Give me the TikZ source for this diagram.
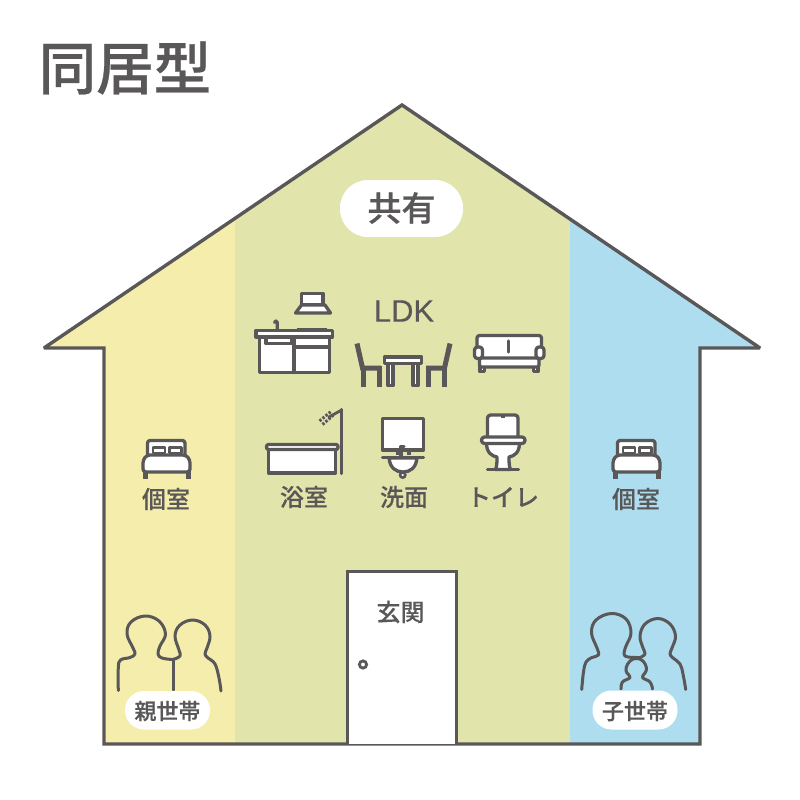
\documentclass[tikz,border=0pt]{standalone}
\usepackage{fontspec}
\setmainfont{Liberation Sans}
\newfontfamily\cjk[FakeBold=0.12]{Noto Sans CJK JP Medium}
\newfontfamily\cjkb[FakeBold=0.45]{Noto Sans CJK JP Medium}
\newfontfamily\latn[FakeBold=0.25]{Liberation Sans}
\definecolor{ink}{HTML}{595757}
\definecolor{yel}{HTML}{F5EDAC}
\definecolor{grn}{HTML}{E2E5AB}
\definecolor{blu}{HTML}{AEDDF0}
\tikzset{
 ln/.style={draw=ink,line width=3.4pt,line join=round},
 ic/.style={draw=ink,line width=3.3pt,fill=white,line join=round,line cap=round},
 th/.style={draw=ink,line width=3.3pt,line cap=round,line join=round},
 pp/.style={draw=ink,line width=3pt,line cap=round,line join=round},
 lbl/.style={text=ink,inner sep=0pt,font=\cjk\fontsize{24}{24}\selectfont},
 blbl/.style={text=ink,inner sep=0pt,font=\cjkb\fontsize{22}{22}\selectfont},
 pill/.style={fill=white,rounded corners=#1,draw=none}
}
\newcommand{\bedicon}[1]{%
 \begin{scope}[xshift=#1pt]
  \fill[ink] (142.5,470) rectangle (147.5,479);
  \fill[ink] (185.5,470) rectangle (190.5,479);
  \draw[ic,rounded corners=2.5pt] (147.5,456) -- (147.5,440.5) -- (185,440.5) -- (185,456);
  \draw[ic,line width=2.8pt] (153,447.5) rectangle (165,453);
  \draw[ic,line width=2.8pt] (169.5,447.5) rectangle (181.5,453);
  \draw[ic,rounded corners=3pt] (143,472) -- (143,460) -- (147,455) -- (186,455) -- (190,460) -- (190,472) -- cycle;
 \end{scope}}
\begin{document}
\begin{tikzpicture}[x=1pt,y=-1pt]
\useasboundingbox (0,0) rectangle (800,800);
\fill[white] (0,0) rectangle (800,800);
\begin{scope}
 \clip (402,105) -- (760,348) -- (700,348) -- (700,744) -- (104,744) -- (104,348) -- (44,348) -- cycle;
 \fill[yel] (0,0) rectangle (235,800);
 \fill[grn] (235,0) rectangle (569.5,800);
 \fill[blu] (569.5,0) rectangle (800,800);
\end{scope}
\draw[ln,line join=miter,miter limit=1.5] (402,105) -- (760,348) -- (700,348) -- (700,744) -- (104,744) -- (104,348) -- (44,348) -- cycle;
\node[text=ink,inner sep=0pt,font=\cjkb\fontsize{57.5}{57.5}\selectfont] (title) at (125,68) {同居型};
\fill[pill=28pt] (340,180) rectangle (463,237);
\node[text=ink,inner sep=0pt,font=\cjkb\fontsize{34}{34}\selectfont] (shared) at (401.5,208) {共有};
\node[text=ink,inner sep=0pt,font=\latn\fontsize{31}{31}\selectfont] (ldk) at (404,311) {LDK};
% kitchen
\draw[ic] (301.5,293.5) rectangle (323,305);
\draw[ic] (301.5,305) -- (325,305) -- (330.5,313) -- (295.5,313) -- cycle;
\draw[th] (277.3,330) -- (277.3,322.5) .. controls (277.3,320.5) and (274.5,320.5) .. (274.5,322.5);
\fill[ink] (296.5,327.5) rectangle (327,331);
\draw[ic] (259.5,337) rectangle (329.5,372.5);
\draw[th] (294,337) -- (294,372.5) (294,347) -- (329.5,347);
\draw[ic] (266,337) -- (266,343.5) -- (292,343.5) -- (292,337);
\draw[ic] (256,330.5) rectangle (332.5,337);
% dining
\draw[ic] (388,363) rectangle (393,385.5);
\draw[ic] (413,363) rectangle (418,385.5);
\draw[ic] (384.5,357) rectangle (421.5,363.5);
\draw[draw=ink,line width=5pt] (357,343.5) -- (362.5,368) -- (381,368);
\draw[draw=ink,line width=5pt] (363,366) -- (363,387);
\draw[draw=ink,line width=5pt] (379,366) -- (379,387);
\draw[draw=ink,line width=5pt] (450,343.5) -- (444.5,368) -- (426,368);
\draw[draw=ink,line width=5pt] (444,366) -- (444,387);
\draw[draw=ink,line width=5pt] (428,366) -- (428,387);
% sofa
\draw[ic] (480,366) rectangle (484.5,371.5);
\draw[ic] (533.5,366) rectangle (538,371.5);
\draw[ic,rounded corners=2.5pt] (477,358) -- (477,335.5) -- (541.5,335.5) -- (541.5,358);
\draw[ic,rounded corners=2pt] (479.5,358) rectangle (539,367);
\draw[ic,rounded corners=3pt] (474.5,347) rectangle (482.5,358.5);
\draw[ic,rounded corners=3pt] (536,347) rectangle (544,358.5);
\draw[th] (508.3,341) -- (508.3,352);
% bath
\draw[th] (341.7,409.5) -- (341.7,473.5);
\draw[th,line width=2.8pt] (341.7,410) -- (329,417);
\draw[draw=ink,line width=3pt,dash pattern=on 2.4pt off 1.6pt] (319.5,421) -- (331,411.5);
\draw[draw=ink,line width=3pt,dash pattern=on 2.4pt off 1.6pt] (322.5,424.5) -- (333,415.5);
\draw[ic] (268.5,449) rectangle (335.5,473);
\draw[ic,rounded corners=2pt] (266.5,444.5) rectangle (338,449.5);
% basin
\draw[ic,line cap=butt] (382.5,418.5) rectangle (423.5,450);
\draw[draw=ink,fill=white,line width=2.6pt] (402.7,475) circle (2.6);
\draw[ic] (389,458) .. controls (390,468) and (396,472) .. (403,472) .. controls (410,472) and (416,468) .. (417,458) -- cycle;
\draw[th] (382.5,457.7) -- (423.5,457.7);
\draw[th] (401,457) -- (401,446.5) -- (404,446.5);
\draw[draw=ink,line width=3pt] (396,453.5) -- (400,453.5) (407,453.5) -- (411,453.5);
% toilet
\draw[ic,rounded corners=3pt] (487.5,438) -- (487.5,415) -- (518,415) -- (518,438);
\fill[ink] (500.5,414) rectangle (505,418);
\draw[ic] (486.5,443) .. controls (486.5,453) and (492,456) .. (497,457) .. controls (497,462) and (497,466) .. (495.5,469.5) -- (510.5,469.5) .. controls (509,466) and (509,462) .. (509,457) .. controls (514,456) and (519.5,453) .. (519.5,443) -- cycle;
\draw[th] (487.5,469.5) -- (518.5,469.5);
\draw[ic,rounded corners=3pt] (481.5,437) rectangle (525,443.5);
% beds
\bedicon{0}
\bedicon{470}
% labels
\node[lbl] (r1) at (166,499) {個室};
\node[lbl] (r2) at (636,499) {個室};
\node[lbl] (bath) at (304,497) {浴室};
\node[lbl] (wash) at (404,497) {洗面};
\node[lbl] (wc) at (503,497) {トイレ};
% door
\draw[ln,fill=white,line join=miter] (347.5,744) -- (347.5,571.5) -- (456.5,571.5) -- (456.5,744);
\node[lbl] (entry) at (400.5,612) {玄関};
\draw[draw=ink,line width=2.8pt] (363,664.5) circle (3.6);
% parents
\draw[pp] plot[smooth,tension=.65] coordinates {(118.3,690.5) (118.3,668) (120.5,660) (130,657.5) (135,654) (133,648) (127,634) (131,622) (145,616) (159,621) (165.5,634) (160,646) (158,654) (162,658) (172,659.5)};
\draw[pp] (173.7,659) -- (173.7,690);
\draw[pp] plot[smooth,tension=.65] coordinates {(173,659.5) (180,656) (179,650) (175,636) (180,625) (192.7,620) (205,625) (210,636) (207,648) (205,654) (208,658) (215,664) (219,678) (221,691)};
% children family
\draw[pp] plot[smooth,tension=.65] coordinates {(581.7,689.5) (583.5,672) (586,662) (592,657.5) (598.5,655) (597,648) (591.5,633) (596,620) (611.5,613.5) (626,619) (631,633) (626,646) (624,654) (628,657) (641,657.5)};
\draw[pp] plot[smooth,tension=.65] coordinates {(640,657.5) (645,654) (643,648) (640,636) (645,624) (657.7,618.5) (670,624) (675.5,636) (672,648) (670,654) (673,658) (680,664) (683,674) (685.7,689.5)};
\draw[pp] plot[smooth,tension=.7] coordinates {(621,689) (622.5,682) (630,677.5) (627,673) (626,668) (630,661) (636.5,658.5) (643,661) (646.5,668) (645,673) (642.5,677.5) (650,682) (652.5,689)};
% pills
\fill[pill=19pt] (125,691) rectangle (210,729.5);
\fill[pill=19pt] (592.5,690.5) rectangle (677.5,729.5);
\node[blbl] (oya) at (167.5,711) {親世帯};
\node[blbl] (ko) at (635,711) {子世帯};
\end{tikzpicture}
\end{document}
